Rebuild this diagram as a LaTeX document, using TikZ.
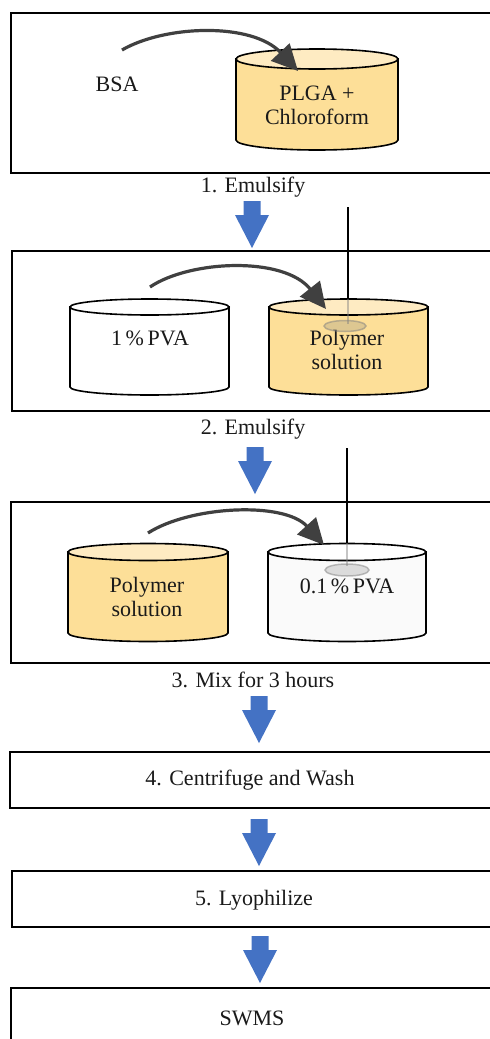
\documentclass[tikz,border=0pt]{standalone}
\usepackage{fontspec}
\setmainfont{Liberation Serif}
\usetikzlibrary{arrows.meta}
\definecolor{arrowblue}{HTML}{4472C4}
\definecolor{arcgray}{HTML}{404040}
\definecolor{yelbody}{HTML}{FDDF98}
\definecolor{yeltop}{HTML}{FEEBC2}
\definecolor{pvabody}{HTML}{FAFAFA}
\definecolor{txt}{HTML}{1A1A1A}
\tikzset{
  frame/.style={draw=black, line width=2pt},
  lbl/.style={font=\fontsize{22}{25}\selectfont, text=txt, inner sep=0pt, align=center},
  cyl/.style={draw=black, line width=1.6pt},
  mix/.style={draw=arcgray, line width=3.2pt, -{Triangle[length=26pt,width=25pt]}},
  flow/.style={fill=arrowblue, draw=none},
  rod/.style={draw=black, line width=1.6pt},
  rodfade/.style={draw=gray, line width=2pt, opacity=0.45},
  prop/.style={draw=gray, fill=gray, fill opacity=0.25, draw opacity=0.5, line width=1.5pt}
}
\newcommand\drawtube[8]{%
  \pgfmathsetmacro\tubrx{(#3-#2)/2}%
  \pgfmathsetmacro\tubcx{(#3+#2)/2}%
  \filldraw[cyl, fill=#7] (#2,#4) -- (#2,#5) arc[start angle=180,end angle=360,x radius=\tubrx pt,y radius=#6pt] -- (#3,#4) -- cycle;
  \filldraw[cyl, fill=#8] (\tubcx,#4) ellipse[x radius=\tubrx pt, y radius=#6pt];
  \coordinate (#1) at (\tubcx,#4);
}
\newcommand\flowarrow[3]{%
  \fill[flow] ({#2-8.5},#3) -- ({#2+8.5},#3) -- ({#2+8.5},#3+14) -- ({#2+17},#3+14)
    -- (#2,#3+47) -- ({#2-17},#3+14) -- ({#2-8.5},#3+14) -- cycle;
  \coordinate (#1) at (#2,#3+47);
}
\begin{document}
\begin{tikzpicture}[x=1pt,y=-1pt]
\useasboundingbox (0,0) rectangle (490,1039);
\clip (0,0) rectangle (490,1039);
\fill[white] (0,0) rectangle (490,1039);

% ---------- Step 1 ----------
\draw[frame] (11,13) rectangle (510,173);
\node[lbl] (bsa) at (117,84) {BSA};
\drawtube{c1}{236}{398}{59}{140}{10}{yelbody}{yeltop}
\node[lbl] (plga) at (317,105) {PLGA +\\[-1pt]Chloroform};
\coordinate (s1) at (122,50);
\coordinate (e1) at (298,71);
\draw[mix] (s1) .. controls (165,25) and (252,22) .. (e1);
\node[lbl] (cap1) at (253,187) {1. Emulsify};

\flowarrow{a1}{252}{201}

% ---------- Step 2 ----------
\draw[frame] (12,251) rectangle (510,411);
\drawtube{c2a}{70}{229}{307}{387}{8}{white}{white}
\drawtube{c2b}{269}{428}{307}{387}{8}{yelbody}{yeltop}
\node[lbl] (pva1) at (150,338) {1\,\%\,PVA};
\node[lbl] (poly1) at (347,350) {Polymer\\[-1pt]solution};
\coordinate (r2t) at (348,207);
\coordinate (r2b) at (348,299);
\draw[rod] (r2t) -- (r2b);
\draw[rodfade] (r2b) -- (348,324);
\draw[prop] (345,326) ellipse[x radius=21pt, y radius=5.5pt];
\coordinate (s2) at (150,287);
\coordinate (e2) at (326,309);
\draw[mix] (s2) .. controls (190,260) and (284,256) .. (e2);
\node[lbl] (cap2) at (253,429) {2. Emulsify};

\flowarrow{a2}{255}{447}

% ---------- Step 3 ----------
\draw[frame] (11,502) rectangle (510,663);
\drawtube{c3a}{68}{228}{552}{633}{8.5}{yelbody}{yeltop}
\drawtube{c3b}{268}{426}{552}{633}{8.5}{pvabody}{white}
\node[lbl] (poly2) at (147,597) {Polymer\\[-1pt]solution};
\node[lbl] (pva2) at (347,586) {0.1\,\%\,PVA};
\coordinate (r3t) at (347,448);
\coordinate (r3b) at (347,543);
\draw[rod] (r3t) -- (r3b);
\draw[rodfade] (r3b) -- (347,566);
\draw[prop] (347,570) ellipse[x radius=22pt, y radius=6pt];
\coordinate (s3) at (148,533);
\coordinate (e3) at (324,545);
\draw[mix] (s3) .. controls (190,506) and (284,501) .. (e3);
\node[lbl] (cap3) at (253,680) {3. Mix for 3 hours};

\flowarrow{a3}{259}{696}

% ---------- Step 4 ----------
\draw[frame] (10,752) rectangle (510,808);
\node[lbl] (t4) at (250,780) {4. Centrifuge and Wash};

\flowarrow{a4}{259}{819}

% ---------- Step 5 ----------
\draw[frame] (12,871) rectangle (510,927);
\node[lbl] (t5) at (254,900) {5. Lyophilize};

\flowarrow{a5}{260}{936}

% ---------- Result ----------
\draw[frame] (11,988) rectangle (510,1060);
\node[lbl] (t6) at (252,1018) {SWMS};
\end{tikzpicture}
\end{document}
